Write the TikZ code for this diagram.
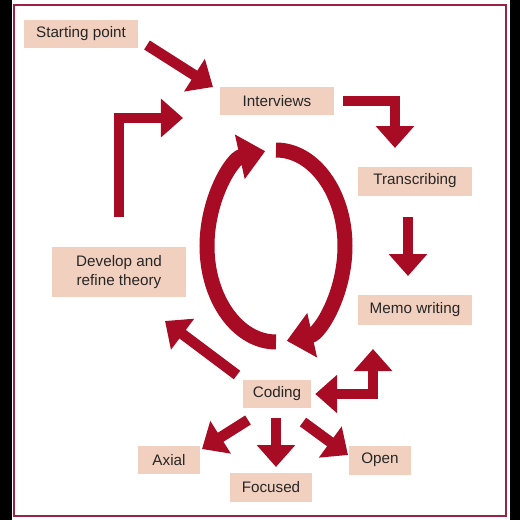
\documentclass[tikz,border=0pt]{standalone}
\usepackage{fontspec}
\setmainfont{Liberation Sans}
\usetikzlibrary{arrows.meta,calc}
\definecolor{ink}{HTML}{262626}
\definecolor{peach}{HTML}{F2D0BF}
\definecolor{crim}{HTML}{A80C25}
\definecolor{rim}{HTML}{9A2244}
\tikzset{blocktip/.tip={Triangle[width=1.12cm,length=0.66cm]},
  ringtip/.tip={Triangle[width=1.32cm,length=0.78cm]}}

\begin{document}
\begin{tikzpicture}[x=0.03cm,y=-0.03cm,
  box/.style={fill=peach,text=ink,inner sep=0pt,align=center,
    minimum width=3.42cm,minimum height=0.85cm,
    font=\fontsize{13}{16}\selectfont},
  blk/.style={draw=crim,line width=0.32cm,-blocktip},
  ring/.style={draw=crim,line width=0.45cm,-ringtip}]
  \useasboundingbox (0,0) rectangle (520,520);

  % screen edges and frame
  \fill[black] (0,0) rectangle (12,520);
  \fill[black] (510,0) rectangle (520,520);
  \draw[rim,line width=0.06cm] (14,5) rectangle (506,516);

  % --- boxes ---
  \node[box] (start) at (81,34) {Starting point};
  \node[box] (interv) at (277,101) {Interviews};
  \node[box,minimum height=0.87cm] (trans) at (415,181) {Transcribing};
  \node[box,minimum height=0.9cm] (memo) at (415,310) {Memo writing};
  \node[box,minimum width=4.02cm,minimum height=1.5cm] (theory)
    at (119,272) {Develop and\\refine theory};
  \node[box,minimum width=2.04cm] (coding) at (277,394) {Coding};
  \node[box,minimum width=1.86cm] (axial) at (169,460) {Axial};
  \node[box,minimum width=2.46cm,minimum height=0.87cm] (focused)
    at (271,487) {Focused};
  \node[box,minimum width=1.83cm,minimum height=0.87cm] (open)
    at (380,460) {Open};

  % --- free arrow ends ---
  \coordinate (s1) at (147,45);  \coordinate (e1) at (213,87);
  \coordinate (e2) at (395,148);
  \coordinate (s3) at (408,217); \coordinate (e3) at (408,276);
  \coordinate (e4) at (373,349);
  \coordinate (s5) at (237,375); \coordinate (e5) at (165,321);
  \coordinate (e6) at (183,118);
  \coordinate (s7) at (248,420); \coordinate (e7) at (202,449);
  \coordinate (s8) at (276,418); \coordinate (e8) at (276,467);
  \coordinate (s9) at (303,422); \coordinate (e9) at (348,455);
  \coordinate (cyc) at (276,246);

  % --- block arrows ---
  \draw[blk] (s1) -- (e1);
  \draw[blk,shorten <=0.27cm] (interv.east) -| (e2);
  \draw[blk] (s3) -- (e3);
  \draw[blk,blocktip-blocktip,shorten >=0.12cm] (e4) |- (coding.east);
  \draw[blk] (s5) -- (e5);
  \draw[blk,shorten <=0.9cm] (theory.north) |- (e6);
  \draw[blk] (s7) -- (e7);
  \draw[blk] (s8) -- (e8);
  \draw[blk] (s9) -- (e9);

  % --- the cycle ---
  \draw[ring] ($(cyc)+(90:69 and 96)$)
    arc[start angle=90,end angle=261,x radius=69,y radius=96];
  \draw[ring] ($(cyc)+(270:69 and 96)$)
    arc[start angle=270,end angle=441,x radius=69,y radius=96];
\end{tikzpicture}
\end{document}
